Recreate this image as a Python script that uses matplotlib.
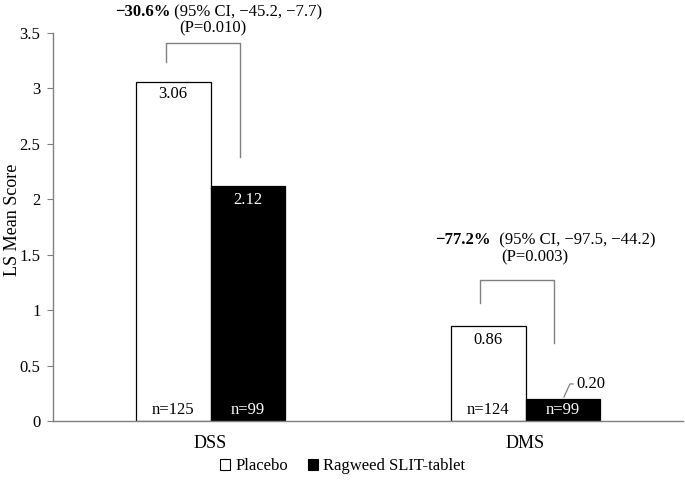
import numpy as np
import matplotlib
matplotlib.use("Agg")
import matplotlib.pyplot as plt
from matplotlib.patches import Patch

# data
categories = ["DSS", "DMS"]
placebo = [3.06, 0.86]
active = [2.12, 0.20]
n_placebo = [125, 124]
n_active = [99, 99]
series_names = ["Placebo", "Ragweed SLIT-tablet"]
pct_diff = ["\u221230.6%", "\u221277.2%"]
ci_text = [" (95% CI, \u221245.2, \u22127.7)", "  (95% CI, \u221297.5, \u221244.2)"]
p_text = ["(P=0.010)", "(P=0.003)"]

plt.rcParams["font.family"] = ["Liberation Serif", "DejaVu Serif"]
plt.rcParams["font.size"] = 12

fig = plt.figure(figsize=(6.85, 4.83), dpi=100)
ax = fig.add_axes([0.0774, 0.1284, 0.9197, 0.8033])

x = np.arange(len(categories))
w = 0.238
ax.bar(x - w / 2, placebo, w, color="white", edgecolor="black", linewidth=0.9)
ax.bar(x + w / 2, active, w, color="black", edgecolor="black", linewidth=0.9)

# value labels inside bar tops
ax.text(x[0] - w / 2, placebo[0] - 0.11, f"{placebo[0]:.2f}", ha="center", va="center")
ax.text(x[0] + w / 2, active[0] - 0.13, f"{active[0]:.2f}", ha="center", va="center", color="white")
ax.text(x[1] - w / 2, placebo[1] - 0.13, f"{placebo[1]:.2f}", ha="center", va="center")
# small bar: label outside with leader
ax.plot([x[1] + 0.122, x[1] + 0.141, x[1] + 0.151], [active[1] + 0.016, 0.334, 0.334],
        color="#808080", lw=0.9)
ax.text(x[1] + 0.16, 0.334, f"{active[1]:.2f}", ha="left", va="center")

# n labels at bar bottoms
for i in range(len(categories)):
    ax.text(x[i] - w / 2, 0.1, f"n={n_placebo[i]}", ha="center", va="center")
    ax.text(x[i] + w / 2, 0.1, f"n={n_active[i]}", ha="center", va="center", color="white")

# brackets
gray = "#808080"
brackets = [(-0.141, 0.094, 3.24, 3.41, 2.38), (0.856, 1.09, 1.064, 1.27, 0.70)]
for xl, xr, yl, yt, yr in brackets:
    ax.plot([xl, xl, xr, xr], [yl, yt, yt, yr], color=gray, lw=1.0, clip_on=False)

# percentage annotations
ann_pos = [(-0.303, 3.69, 0.008, 3.54), (0.713, 1.633, 1.03, 1.479)]
for i, (bx, by, px, py) in enumerate(ann_pos):
    tb = ax.text(bx, by, pct_diff[i], ha="left", va="center", fontweight="bold", clip_on=False)
    ax.annotate(ci_text[i], xy=(1, 0), xycoords=tb, ha="left", va="bottom")
    ax.text(px, py, p_text[i], ha="center", va="center", clip_on=False)

ax.set_xlim(-0.5, 1.5)
ax.set_ylim(0, 3.5)
ax.set_yticks(np.arange(0, 3.51, 0.5))
ax.set_yticklabels(["0", "0.5", "1", "1.5", "2", "2.5", "3", "3.5"])
ax.set_xticks(x)
ax.set_xticklabels(categories, fontsize=13)
ax.tick_params(axis="x", length=0, pad=10)
ax.tick_params(axis="y", length=4, color=gray, pad=5)
fig.text(13 / 685, 0.545, "LS Mean Score", rotation=90, ha="center", va="center", fontsize=13)
for s in ["top", "right"]:
    ax.spines[s].set_visible(False)
for s in ["left", "bottom"]:
    ax.spines[s].set_color(gray)
    ax.spines[s].set_linewidth(1.0)

handles = [Patch(facecolor="white", edgecolor="black", linewidth=0.8),
           Patch(facecolor="black", edgecolor="black", linewidth=0.8)]
fig.legend(handles, series_names, loc="center", bbox_to_anchor=(0.5, 0.035), ncol=2,
           frameon=False, handlelength=0.6, handleheight=0.6, handletextpad=0.3,
           columnspacing=1.2, fontsize=12)

fig.savefig("out.png", dpi=100)
